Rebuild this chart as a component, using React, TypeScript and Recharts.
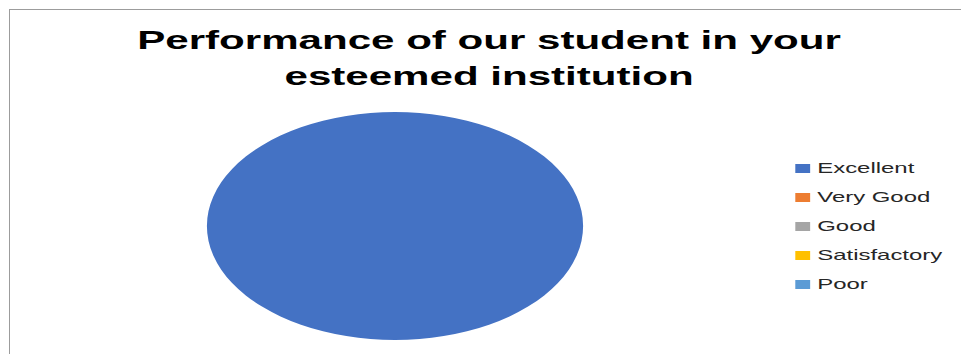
import { PieChart, Pie, Cell, Legend } from "recharts";

const categories = ["Excellent", "Very Good", "Good", "Satisfactory", "Poor"];
const values = [100, 0, 0, 0, 0];
const colors = ["#4472C4", "#ED7D31", "#A5A5A5", "#FFC000", "#5B9BD5"];
const titleLines = ["Performance of our student in your", "esteemed institution"];

const data = categories.map((name, i) => ({ name, value: values[i] }));

// the reference is stretched horizontally, so draw narrow and scale X
const STRETCH = 1.65;
const W = 583;
const H = 354;

function LegendList({ payload }: any) {
  // keep the category order, not alphabetical
  const items = [...(payload || [])].sort(
    (a: any, b: any) => categories.indexOf(a.value) - categories.indexOf(b.value)
  );
  return (
    <div>
      {items.map((p: any) => (
        <div key={p.value} style={{ display: "flex", alignItems: "center", height: 29 }}>
          <span style={{ width: 9, height: 9, background: p.color, marginRight: 4.5, flex: "none" }} />
          <span style={{ fontSize: 14.5, color: "#262626", whiteSpace: "nowrap" }}>{p.value}</span>
        </div>
      ))}
    </div>
  );
}

export default function App() {
  return (
    <div style={{ position: "fixed", left: 0, top: 0, width: 961, height: 354, background: "#fff", overflow: "hidden" }}>
      <div
        style={{
          position: "absolute",
          left: 9,
          top: 9,
          width: 1000,
          height: 400,
          borderTop: "1.5px solid #9c9c9c",
          borderLeft: "1.5px solid #9c9c9c",
        }}
      />
      <div
        style={{
          position: "absolute",
          left: 0,
          top: 0,
          width: W,
          height: H,
          transform: `scaleX(${STRETCH})`,
          transformOrigin: "0 0",
          fontFamily: "'Liberation Sans', Arial, sans-serif",
        }}
      >
        <div
          style={{
            position: "absolute",
            left: 0,
            top: 22,
            width: 592.8,
            textAlign: "center",
            fontSize: 25.5,
            fontWeight: 700,
            lineHeight: "36px",
            color: "#000",
          }}
        >
          {titleLines.map((t) => (
            <div key={t}>{t}</div>
          ))}
        </div>
        <PieChart width={W} height={H} margin={{ top: 0, right: 0, bottom: 0, left: 0 }}>
          <Pie
            data={data}
            dataKey="value"
            nameKey="name"
            cx={239.4}
            cy={226}
            outerRadius={114}
            startAngle={90}
            endAngle={-270}
            stroke="none"
            isAnimationActive={false}
          >
            {data.map((d, i) => (
              <Cell key={d.name} fill={colors[i]} />
            ))}
          </Pie>
          <Legend
            layout="vertical"
            itemSorter={null}
            content={<LegendList />}
            wrapperStyle={{ position: "absolute", left: 481.8, top: 153.5, width: 100, right: "auto", bottom: "auto" }}
          />
        </PieChart>
      </div>
    </div>
  );
}
